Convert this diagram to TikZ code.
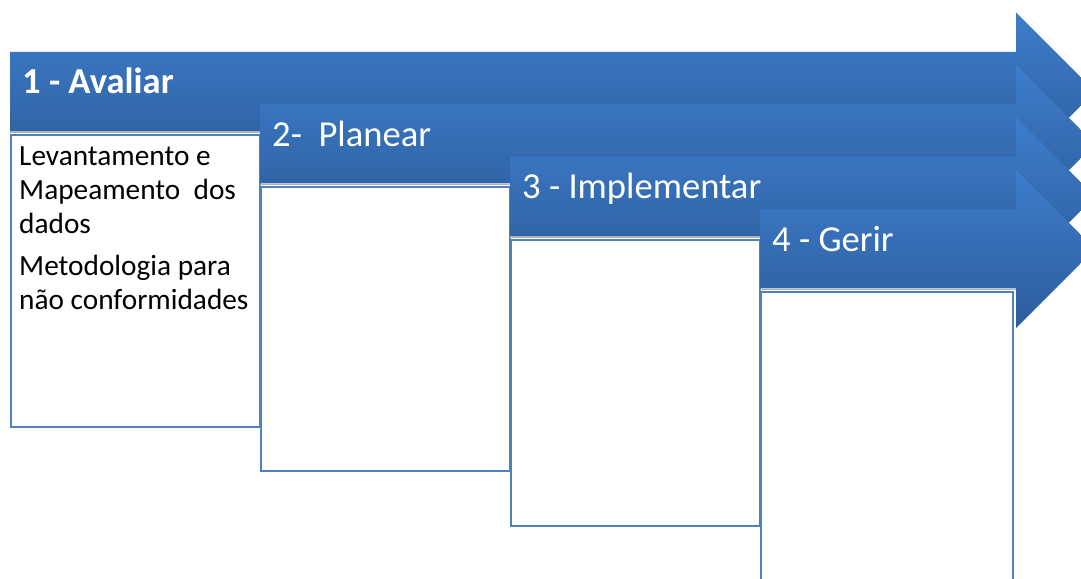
\documentclass[tikz,border=0pt]{standalone}
\usepackage{fontspec}
\setmainfont{Carlito}
\definecolor{arrtop}{HTML}{3E7DCB}
\definecolor{arrbot}{HTML}{2C5C9B}
\definecolor{boxline}{HTML}{4F81BD}
\newcommand\stagearrow[2]{%
  \shade[top color=arrtop,bottom color=arrbot]
    (#1,#2) -- (1016,#2) -- (1016,#2+39.5) -- (1095,#2-39.5)
    -- (1016,#2-118.5) -- (1016,#2-79) -- (#1,#2-79) -- cycle;
  \draw[black!30, line width=1.5pt] (#1,#2-80) -- (1016,#2-80);
}
\begin{document}
\begin{tikzpicture}[x=1pt,y=1pt,
  stagebox/.style={draw=boxline, line width=1.8pt, fill=white, inner sep=0pt, anchor=north west},
  stagetitle/.style={text=white, inner sep=0pt, anchor=base west, font=\fontsize{36.6}{44}\selectfont},
  boxtext/.style={inner sep=0pt, anchor=north west, align=left, font=\fontsize{29.3}{34}\selectfont}]
\useasboundingbox (0,0) rectangle (1081,578);
\clip (0,0) rectangle (1081,578);
\fill[white] (0,0) rectangle (1081,578);

\stagearrow{10}{526}
\node[stagebox, minimum width=249pt, minimum height=292pt] (b1) at (10,444) {};
\node[stagetitle] (t1) at (22,484) {\bfseries 1 - Avaliar};
\node[boxtext] (x1) at (19,431) {Levantamento e\\Mapeamento\ \ dos\\dados\\[8pt]Metodologia para\\não conformidades};

\stagearrow{260}{473.5}
\node[stagebox, minimum width=249pt, minimum height=283.5pt] (b2) at (260,391.5) {};
\node[stagetitle] (t2) at (272,431.5) {2-\ \ Planear};

\stagearrow{510}{421}
\node[stagebox, minimum width=249pt, minimum height=286pt] (b3) at (510,339) {};
\node[stagetitle] (t3) at (522,379) {3 - Implementar};

\stagearrow{760}{368.5}
\node[stagebox, minimum width=252pt, minimum height=320pt] (b4) at (760,286.5) {};
\node[stagetitle] (t4) at (772,326.5) {4 - Gerir};
\end{tikzpicture}
\end{document}
